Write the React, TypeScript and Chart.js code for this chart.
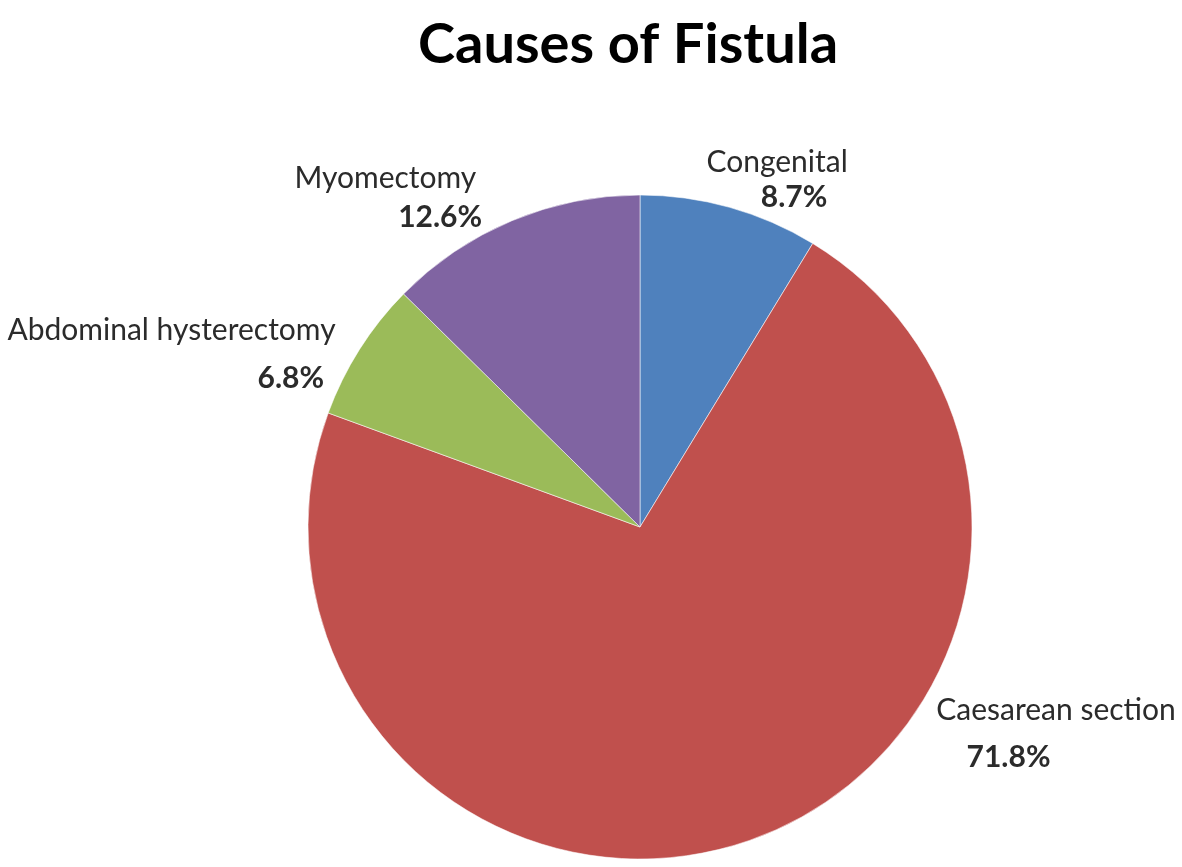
import React, { useEffect, useRef } from "react";
import { Chart, registerables } from "chart.js";

Chart.register(...registerables);

const TITLE = "Causes of Fistula";
const categories = ["Congenital", "Caesarean section", "Abdominal hysterectomy", "Myomectomy"];
const percentages = [8.7, 71.8, 6.8, 12.6];
const colors = ["#4F81BD", "#C0504D", "#9BBB59", "#8064A2"];

// label anchors, expressed relative to the pie centre in units of its radius
const nameAnchors = [
  [0.413, -1.069],
  [1.253, 0.581],
  [-1.411, -0.563],
  [-0.767, -1.021],
];
const pctAnchors = [
  [0.464, -0.964],
  [1.11, 0.723],
  [-1.052, -0.419],
  [-0.602, -0.904],
];

const FONT = "Lato, 'Open Sans', sans-serif";

const labelPlugin = {
  id: "pieLabels",
  afterDraw(chart: any) {
    const ctx = chart.ctx;
    const meta = chart.getDatasetMeta(0);
    const arc0 = meta.data[0];
    if (!arc0) return;
    const cx = arc0.x;
    const cy = arc0.y;
    const r = arc0.outerRadius;
    ctx.save();
    // title
    ctx.fillStyle = "#000000";
    ctx.textAlign = "center";
    ctx.textBaseline = "alphabetic";
    ctx.font = `bold 56px ${FONT}`;
    ctx.fillText(TITLE, cx - 12, 63);
    // labels
    categories.forEach((name, i) => {
      const [nx, ny] = nameAnchors[i];
      const [px, py] = pctAnchors[i];
      ctx.fillStyle = "#2b2b2b";
      ctx.font = `30px ${FONT}`;
      ctx.fillText(name, cx + nx * r, cy + ny * r);
      ctx.font = `bold 30px ${FONT}`;
      ctx.fillText(percentages[i].toFixed(1) + "%", cx + px * r, cy + py * r);
    });
    ctx.restore();
  },
};

export default function App() {
  const ref = useRef<HTMLCanvasElement | null>(null);
  useEffect(() => {
    if (!ref.current) return;
    const chart = new Chart(ref.current, {
      type: "pie",
      data: {
        labels: categories,
        datasets: [
          {
            data: percentages,
            backgroundColor: colors,
            borderColor: "rgba(255,255,255,0.55)",
            borderWidth: 1,
            radius: 332,
          } as any,
        ],
      },
      options: {
        animation: false,
        responsive: false,
        devicePixelRatio: 1,
        layout: { padding: { left: 308, right: 210, top: 195, bottom: 8 } },
        plugins: {
          legend: { display: false },
          tooltip: { enabled: false },
          title: { display: false },
        },
      },
      plugins: [labelPlugin],
    });
    return () => chart.destroy();
  }, []);
  return (
    <div style={{ position: "fixed", left: 0, top: 0, width: 1182, height: 867, background: "#ffffff" }}>
      <canvas ref={ref} width={1182} height={867} style={{ width: 1182, height: 867 }} />
    </div>
  );
}
